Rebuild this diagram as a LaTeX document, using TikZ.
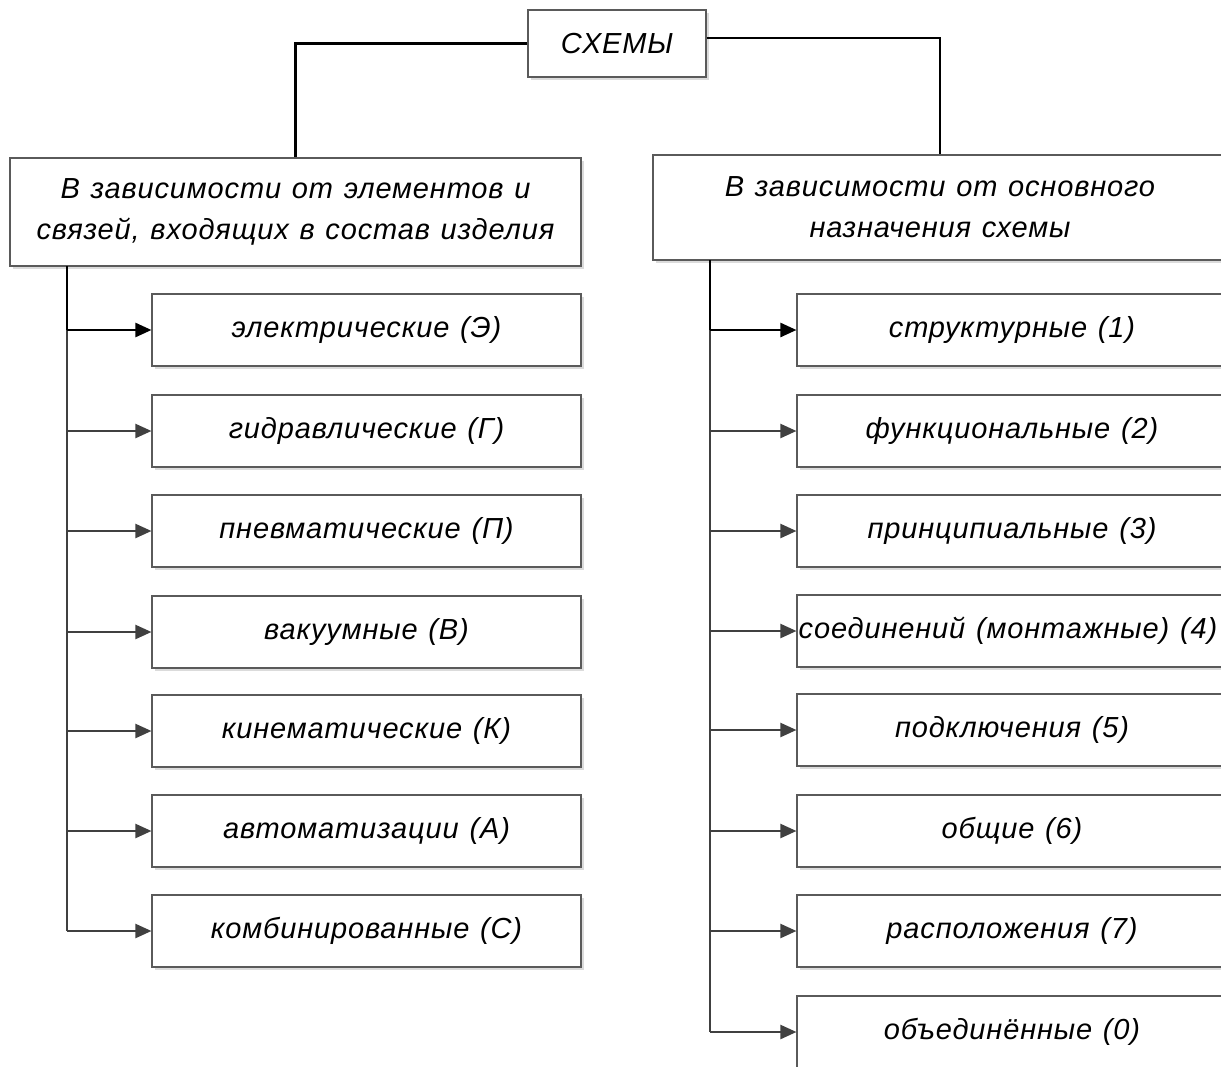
\documentclass[tikz,border=0pt]{standalone}
\usepackage{fontspec}
\setmainfont{Liberation Sans}[LetterSpace=3,WordSpace=1.2]
\usetikzlibrary{arrows.meta,shadows}
\definecolor{edgegray}{HTML}{404040}
\definecolor{framegray}{HTML}{5A5A5A}
\begin{document}
\begin{tikzpicture}[x=1pt,y=-1pt,
    kind/.style={rectangle, draw=framegray, line width=1.1pt, fill=white, align=center,
      inner sep=0pt, font=\fontsize{29}{41}\selectfont\itshape,
      drop shadow={shadow xshift=3pt, shadow yshift=-3pt, fill=black!14, opacity=1}},
    leaf/.style={kind, minimum width=429pt, minimum height=72pt},
    headline/.style={draw=black, line width=2.4pt},
    stemline/.style={draw=edgegray, line width=2.2pt},
    tip/.style={-{Triangle[length=16pt,width=14pt]}}]
      \clip (0,0) rectangle (1221,1066);
      \node[kind, minimum width=178pt, minimum height=67pt] (schemes) at (617,43.5) {СХЕМЫ};
      \node[kind, minimum width=571pt, minimum height=108pt] (byparts) at (295.5,212) {В зависимости от элементов и\\связей, входящих в состав изделия};
      \node[kind, minimum width=574pt, minimum height=105pt] (bypurpose) at (940,207.5) {В зависимости от основного\\назначения схемы};
      \node[leaf] (l1) at (366.5,330) {электрические (Э)};
      \node[leaf] (l2) at (366.5,431) {гидравлические (Г)};
      \node[leaf] (l3) at (366.5,531) {пневматические (П)};
      \node[leaf] (l4) at (366.5,632) {вакуумные (В)};
      \node[leaf] (l5) at (366.5,731) {кинематические (К)};
      \node[leaf] (l6) at (366.5,831) {автоматизации (А)};
      \node[leaf] (l7) at (366.5,931) {комбинированные (С)};
      \node[leaf, minimum width=430pt] (r1) at (1012,330) {структурные (1)};
      \node[leaf, minimum width=430pt] (r2) at (1012,431) {функциональные (2)};
      \node[leaf, minimum width=430pt] (r3) at (1012,531) {принципиальные (3)};
      \node[leaf, minimum width=430pt] (r4) at (1012,631) {соединений (монтажные) (4)\hspace*{8pt}};
      \node[leaf, minimum width=430pt] (r5) at (1012,730) {подключения (5)};
      \node[leaf, minimum width=430pt] (r6) at (1012,831) {общие (6)};
      \node[leaf, minimum width=430pt] (r7) at (1012,931) {расположения (7)};
      \node[leaf, minimum width=430pt] (r8) at (1012,1032) {объединённые (0)};
      \coordinate (lroot) at (67,266);
      \coordinate (rroot) at (710,260);
      % top level
      \draw[headline] (schemes.west) -| (byparts.north);
      \draw[headline] ([yshift=5.5pt]schemes.east) -| (bypurpose.north);
      % trunks
      \draw[headline] (lroot) -- (lroot |- l1.west);
      \draw[stemline] (lroot |- l1.west) -- (lroot |- l7.west);
      \draw[headline] (rroot) -- (rroot |- r1.west);
      \draw[stemline] (rroot |- r1.west) -- (rroot |- r8.west);
      \draw[headline, tip] (lroot |- l1.west) -- (l1.west);
      \draw[headline, tip] (rroot |- r1.west) -- (r1.west);
      \foreach \root/\dest in {lroot/l2, lroot/l3, lroot/l4, lroot/l5, lroot/l6, lroot/l7,
          rroot/r2, rroot/r3, rroot/r4, rroot/r5, rroot/r6, rroot/r7, rroot/r8}
        \draw[stemline, tip] (\root |- \dest.west) -- (\dest.west);
    \end{tikzpicture}
\end{document}
